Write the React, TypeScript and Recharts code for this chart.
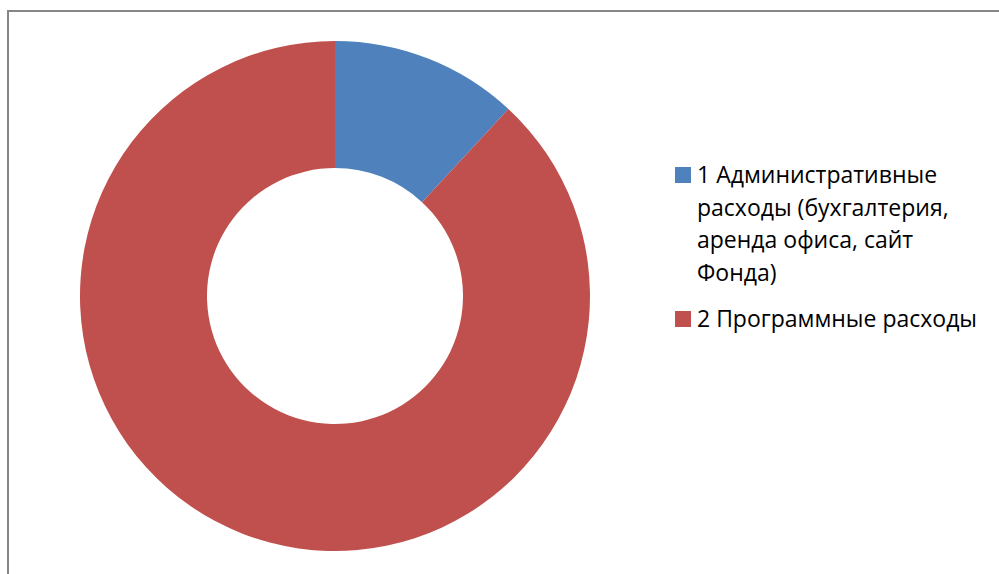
import React from "react";
import { PieChart, Pie, Cell, Legend } from "recharts";

const categories: string[] = [
  "1 Административные расходы (бухгалтерия, аренда офиса, сайт Фонда)",
  "2 Программные расходы",
];
const shares: number[] = [11.9, 88.1];
const colors: string[] = ["#4F81BD", "#C0504D"];

const data = categories.map((name, i) => ({ name, value: shares[i] }));

const font = "'Open Sans', 'Noto Sans', sans-serif";

const LegendBox = (props: any) => {
  const { payload } = props;
  return (
    <div style={{ fontFamily: font, fontSize: 23, color: "#000", width: 320 }}>
      {(payload || []).map((p: any, i: number) => (
        <div
          key={i}
          style={{ display: "flex", alignItems: "flex-start", marginBottom: 14, lineHeight: "32.5px" }}
        >
          <span
            style={{
              display: "inline-block",
              width: 16,
              height: 16,
              background: p.color,
              marginTop: 9,
              marginRight: 6,
              flexShrink: 0,
            }}
          />
          <span style={{ width: 280, whiteSpace: String(p.value).length < 30 ? "nowrap" : "normal" }}>
            {p.value}
          </span>
        </div>
      ))}
    </div>
  );
};

const App: React.FC = () => {
  return (
    <div style={{ position: "absolute", left: 0, top: 0, width: 999, height: 574, overflow: "hidden", background: "#fff" }}>
      <div
        style={{
          position: "absolute",
          left: 7,
          top: 10,
          width: 1020,
          height: 600,
          border: "2px solid #868686",
        }}
      />
      <div style={{ position: "absolute", left: 0, top: 0 }}>
        <PieChart width={999} height={574} margin={{ top: 0, right: 0, bottom: 0, left: 0 }}>
          <Pie
            data={data}
            dataKey="value"
            nameKey="name"
            cx={335}
            cy={296}
            innerRadius={128}
            outerRadius={255}
            startAngle={90}
            endAngle={-270}
            stroke="none"
            isAnimationActive={false}
          >
            {data.map((_, i) => (
              <Cell key={i} fill={colors[i]} />
            ))}
          </Pie>
          <Legend
            layout="vertical"
            content={<LegendBox />}
            wrapperStyle={{ position: "absolute", left: 675, top: 158, width: 324 }}
          />
        </PieChart>
      </div>
    </div>
  );
};

export default App;
